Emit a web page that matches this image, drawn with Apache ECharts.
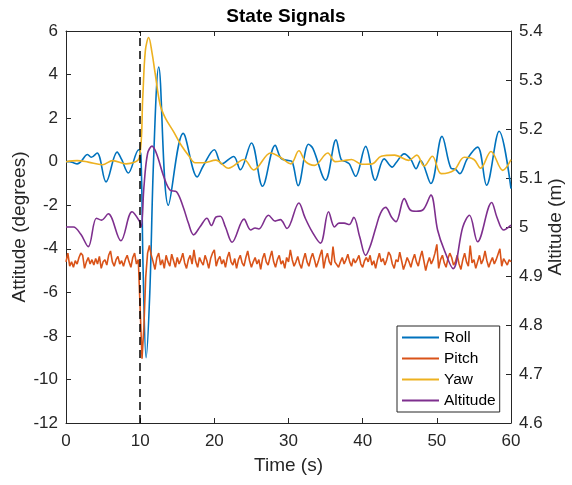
<!DOCTYPE html>
<html>
<head>
<meta charset="utf-8">
<script src="https://cdn.jsdelivr.net/npm/echarts@6/dist/echarts.min.js"></script>
<style>html,body{margin:0;padding:0;background:#fff}#c{width:572px;height:485px}</style>
</head>
<body>
<div id="c"></div>
<script>
// ---- data ----
const seriesNames = ['Roll', 'Pitch', 'Yaw', 'Altitude'];
const eventTime = 10;

const rollT = [0,0.5,1,1.5,2,2.9,3.4,4.2,5.4,6.9,7.5,8.4,9.8,10.1,10.4,10.8,11.3,11.8,12.5,13.8,15.8,17.7,18.5,20.0,21.0,22.6,23.5,25.0,26.5,28.2,29.0,30.0,30.5,31.3,32.7,33.3,35.0,36.4,37.1,37.7,38.2,39.05,40.4,41.7,42.9,44.0,44.5,45.6,46.5,47.2,47.8,49.2,50.7,51.9,52.5,53.1,54.1,55.5,56.7,58.4,60];
const rollV = [0.0,0.0,-0.05,-0.1,0.0,0.33,0.2,0.4,-0.93,0.44,0.1,-0.52,0.55,0.3,-5.0,-9.0,-6.0,0.0,4.35,-2.0,1.3,-0.7,-0.2,0.55,-0.1,0.24,-0.37,0.86,-1.13,0.75,0.15,0.05,0.0,-1.1,0.8,0.6,-0.85,1.0,0.1,0.0,-0.1,-0.67,0.7,-0.85,0.13,-0.25,-0.05,0.36,0.1,-0.32,0.05,-1.0,1.16,-0.3,-0.35,-0.55,0.13,0.67,-1.08,1.4,-1.24];

const yawT = [0,1.5,3,4.9,6.3,8.1,9.9,10.35,10.7,11.15,11.6,12.0,12.7,13.4,14.5,15.6,16.6,17.4,18.5,20.2,21.9,24.0,25.3,27.6,28.9,30.3,31.4,32.3,33.5,35.3,36.3,37.5,38.5,39.9,41.3,42.5,44.3,46.2,47.3,48.3,49.4,50.6,52.3,53.7,55.0,55.9,57.3,58.9,60];
const yawV = [0,0.05,-0.02,-0.14,0.05,-0.1,0.2,2.95,5.1,5.7,5.0,4.1,2.6,2.0,1.38,0.72,0.25,-0.05,-0.05,0.07,-0.3,0.1,-0.38,0.4,0.2,-0.1,0.5,0.0,-0.17,0.4,0.0,0.05,0.1,-0.12,-0.1,0.25,0.3,0.06,0.3,-0.2,0.25,-0.55,-0.4,0.2,0.1,-0.3,0.47,-0.4,0.09];

const altT = [0,1.0,2.0,3.0,4.1,4.8,5.7,7.4,8.9,9.9,10.15,10.5,11.0,11.6,12.2,13.2,14.05,14.9,15.8,16.5,17.2,18.1,19.0,19.6,20.2,20.8,21.5,22.4,24.0,24.9,25.5,26.0,27.3,28.2,28.9,29.8,31.4,32.2,33.2,34.3,35.4,36.2,36.8,37.5,38.2,38.8,39.6,40.4,41.0,41.8,42.4,43.1,43.9,44.5,45.6,46.4,47.2,48.2,49.2,50.1,51.0,52.2,53.5,54.4,55.5,57.4,58.1,59.0,60];
const altV = [5.0,5.0,4.985,4.96,5.018,5.014,5.027,4.972,5.031,5.012,5.0,5.08,5.15,5.165,5.15,5.102,5.075,5.072,5.041,5.008,4.984,5.001,5.018,5.003,5.02,5.022,5.0,4.969,5.016,4.994,4.998,4.996,5.024,5.012,5.015,4.997,5.049,5.02,4.99,4.967,5.031,5.0,5.008,5.008,5.005,5.02,4.98,4.942,4.96,5.0,5.028,5.04,5.02,5.011,5.058,5.035,5.032,5.036,5.065,4.994,4.953,4.915,5.0,5.024,4.97,5.05,5.02,4.994,5.004];

const pitchDt = 0.25;
const pitchV = [
-4.6,-4.2,-4.8,-4.6,-4.85,-4.55,-4.7,-4.4,-4.2,-4.3,
-4.9,-4.6,-4.4,-4.7,-4.5,-4.75,-4.45,-4.7,-4.35,-4.9,
-4.6,-4.5,-4.75,-4.3,-4.1,-4.6,-4.8,-4.5,-4.35,-4.7,
-4.55,-4.8,-4.5,-4.3,-4.6,-4.85,-4.4,-4.2,-4.7,-4.5,
-4.5,-9.05,-7.6,-5.3,-4.2,-3.85,
-4.3,-4.6,-4.95,-4.4,-4.2,-4.75,-4.5,-4.9,-4.3,-4.6,
-4.8,-4.25,-4.55,-4.85,-4.4,-4.7,-4.5,-4.2,-4.65,-4.9,
-4.5,-4.3,-4.7,-4.05,-4.6,-4.85,-4.4,-4.6,-4.75,-4.3,
-4.55,-4.9,-4.45,-4.2,-4.05,-4.8,-4.5,-4.35,-4.7,-4.5,
-4.85,-4.4,-4.15,-4.6,-4.75,-4.45,-4.9,-4.5,-4.3,-4.65,
-4.8,-4.4,-4.1,-4.55,-4.85,-4.6,-4.4,-4.7,-4.5,-4.95,
-4.45,-4.2,-4.6,-4.75,-4.4,-4.1,-4.6,-4.85,-4.5,-4.3,
-4.7,-4.55,-4.9,-4.4,-4.6,-4.05,-4.5,-4.8,-4.6,-4.35,
-4.7,-4.9,-4.5,-4.2,-4.6,-4.8,-4.45,-4.2,-4.5,-4.85,
-4.6,-4.3,-4.05,-4.9,-4.45,-4.2,-4.6,-4.75,-3.9,-4.6,
-4.55,-4.85,-4.6,-4.4,-4.7,-4.5,-4.25,-4.6,-4.8,-4.45,
-4.65,-4.5,-4.3,-4.7,-4.85,-4.55,-4.4,-4.6,-4.3,-4.75,
-4.55,-4.9,-4.5,-4.2,-4.6,-4.45,-4.75,-4.5,-4.15,-4.3,
-4.7,-4.9,-4.5,-4.6,-4.15,-4.55,-4.95,-4.7,-4.4,-4.6,
-4.85,-4.5,-4.25,-4.6,-4.8,-4.4,-4.1,-4.55,-5.0,-4.65,
-4.4,-4.7,-4.5,-4.2,-3.8,-4.9,-4.5,-4.3,-4.65,-4.85,
-4.45,-4.2,-4.4,-4.75,-4.6,-4.3,-4.7,-4.95,-4.5,-4.2,
-4.6,-4.8,-3.85,-4.65,-4.5,-4.9,-4.6,-4.3,-4.7,-4.5,
-4.1,-4.55,-4.85,-4.6,-4.4,-4.7,-4.5,-4.25,-4.0,-4.8,
-4.45,-4.6,-4.75,-4.5,-4.6
];

// ---- chart ----
const colors = ['#0072BD', '#D95319', '#EDB120', '#7E2F8E'];
const font = '"Liberation Sans", Arial, Helvetica, sans-serif';
const axisColor = '#262626';
const zip = (ts, vs) => ts.map((t, i) => [t, vs[i]]);
const pitchData = pitchV.map((v, i) => [i * pitchDt, v]);

const axisLine = { onZero: false, lineStyle: { color: axisColor, width: 1 } };
const axisTick = { inside: true, length: 5, lineStyle: { color: axisColor, width: 1 } };
const tickFont = { fontFamily: font, fontSize: 17, color: axisColor };
const nameFont = { fontFamily: font, fontSize: 19, color: axisColor };

const chart = echarts.init(document.getElementById('c'));
chart.setOption({
  animation: false,
  backgroundColor: '#fff',
  color: colors,
  title: {
    text: 'State Signals', left: 'center', top: 7, padding: 0,
    textStyle: { fontFamily: font, fontSize: 19, fontWeight: 'bold', color: '#000' }
  },
  grid: { left: 66, right: 61, top: 31, bottom: 62, containLabel: false, outerBoundsMode: 'none' },
  xAxis: [
    {
      type: 'value', min: 0, max: 60, interval: 10, position: 'bottom',
      name: 'Time (s)', nameLocation: 'middle', nameGap: 33, nameTextStyle: nameFont, nameMoveOverlap: false,
      axisLine, axisTick, axisLabel: Object.assign({ margin: 10 }, tickFont),
      splitLine: { show: false }
    },
    {
      type: 'value', min: 0, max: 60, interval: 10, position: 'top',
      axisLine, axisTick, axisLabel: { show: false }, splitLine: { show: false }
    }
  ],
  yAxis: [
    {
      type: 'value', min: -12, max: 6, interval: 2, position: 'left',
      name: 'Attitude (degrees)', nameLocation: 'middle', nameRotate: 90, nameGap: 37, nameTextStyle: nameFont, nameMoveOverlap: false,
      axisLine, axisTick, axisLabel: Object.assign({ margin: 8 }, tickFont),
      splitLine: { show: false }
    },
    {
      type: 'value', min: 4.6, max: 5.4, interval: 0.1, position: 'right',
      name: 'Altitude (m)', nameLocation: 'middle', nameRotate: 90, nameGap: 35, nameTextStyle: nameFont, nameMoveOverlap: false,
      axisLine, axisTick,
      axisLabel: Object.assign({ margin: 8, formatter: v => String(Math.round(v * 10) / 10) }, tickFont),
      splitLine: { show: false }
    }
  ],
  legend: {
    data: seriesNames, orient: 'vertical', left: 397, top: 326,
    padding: [3, 4, 3, 5], itemGap: 4, itemWidth: 37, itemHeight: 2, icon: 'rect',
    backgroundColor: '#fff', borderColor: axisColor, borderWidth: 1, borderRadius: 0,
    textStyle: { fontFamily: font, fontSize: 15.5, color: '#000', lineHeight: 17 }
  },
  series: [
    {
      name: seriesNames[0], type: 'line', data: zip(rollT, rollV), smooth: 0.35,
      showSymbol: false, symbol: 'none', lineStyle: { width: 1.6 },
      markLine: {
        silent: true, symbol: ['none', 'none'], label: { show: false },
        lineStyle: { color: '#000', type: [8, 5], width: 1.5 },
        data: [{ xAxis: eventTime }]
      }
    },
    {
      name: seriesNames[1], type: 'line', data: pitchData,
      showSymbol: false, symbol: 'none', lineStyle: { width: 1.6 }
    },
    {
      name: seriesNames[2], type: 'line', data: zip(yawT, yawV), smooth: 0.35,
      showSymbol: false, symbol: 'none', lineStyle: { width: 1.6 }
    },
    {
      name: seriesNames[3], type: 'line', yAxisIndex: 1, data: zip(altT, altV), smooth: 0.35,
      showSymbol: false, symbol: 'none', lineStyle: { width: 1.6 }
    }
  ]
});
</script>
</body>
</html>
